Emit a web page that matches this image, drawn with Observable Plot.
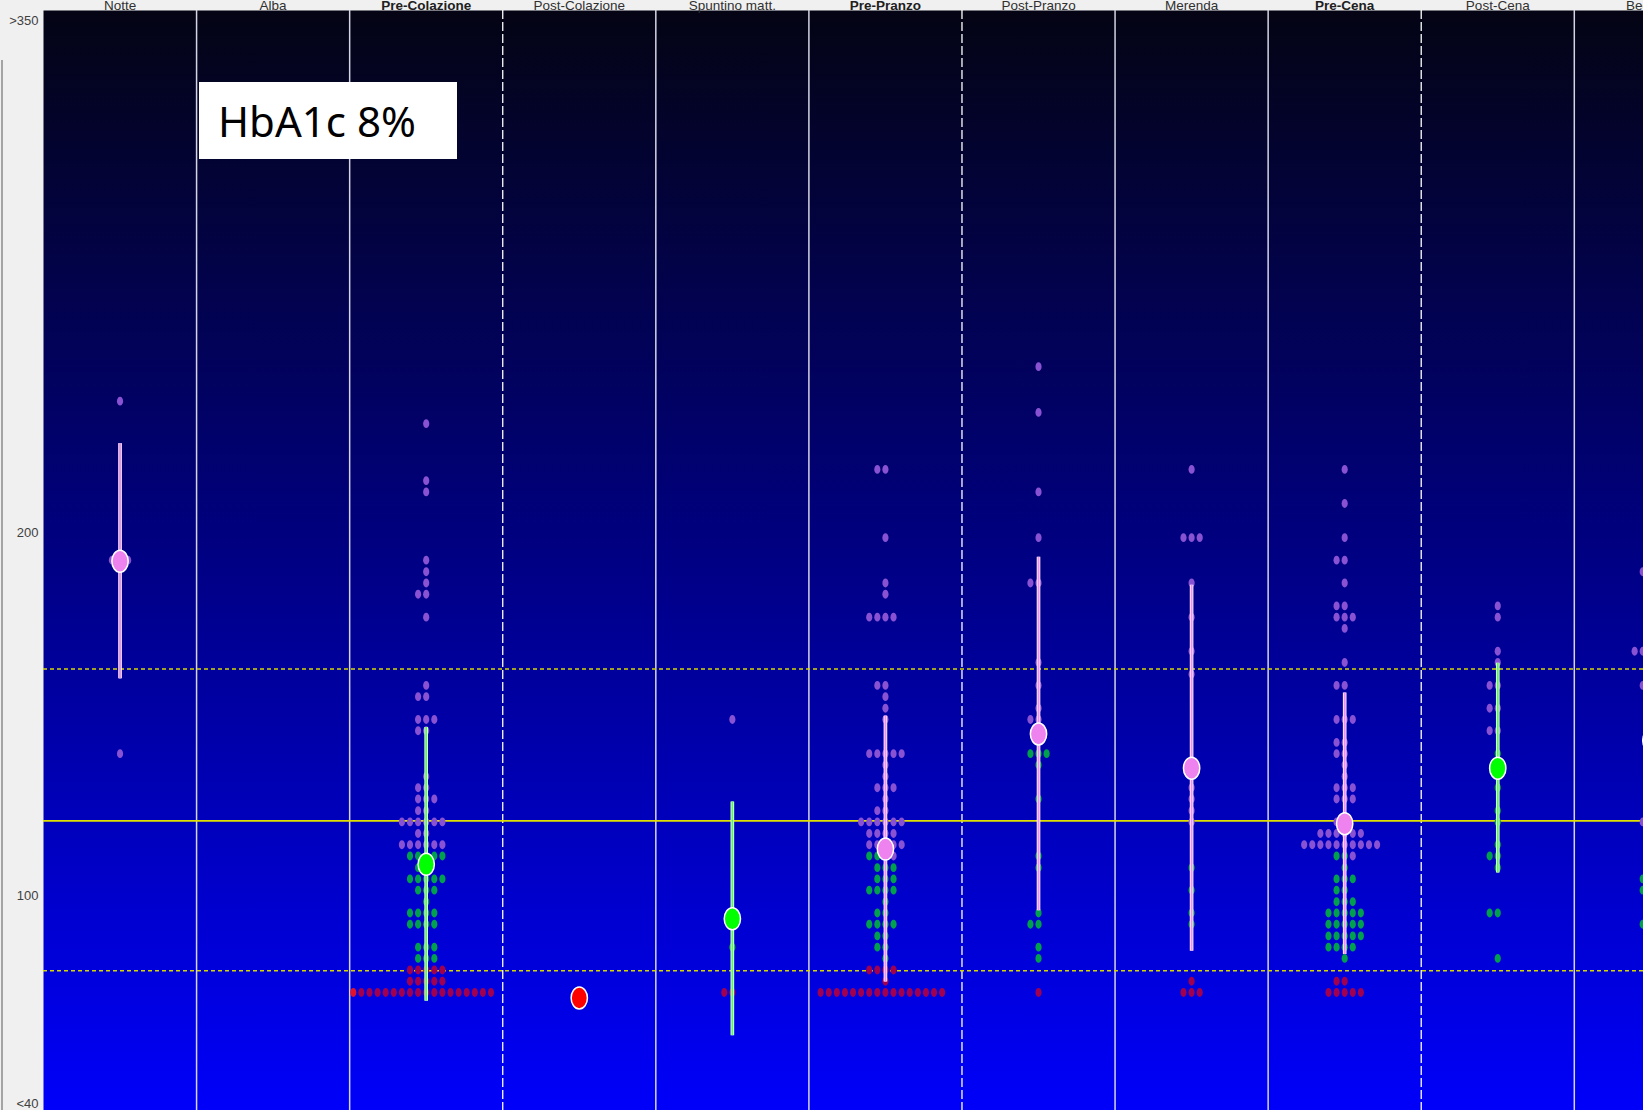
<!DOCTYPE html>
<html>
<head>
<meta charset="utf-8">
<script src="https://cdn.jsdelivr.net/npm/d3@7"></script>
<script src="https://cdn.jsdelivr.net/npm/@observablehq/plot@0.6"></script>
<style>
  html, body { margin: 0; padding: 0; width: 1643px; height: 1110px; overflow: hidden; background: #f0f0f0; }
  #chart { position: absolute; left: 0; top: 0; }
  #edge { position: absolute; left: 1px; top: 60px; width: 2px; height: 1050px; background: #a4a4a4; }
  #hba1c {
    position: absolute; left: 199px; top: 82px; width: 258px; height: 77px;
    background: #ffffff; color: #000; box-sizing: border-box; padding-left: 19px;
    font-family: "Noto Sans", sans-serif; font-size: 42px; line-height: 77px; white-space: nowrap;
  }
</style>
</head>
<body>
<div id="edge"></div>
<div id="chart"></div>
<div id="hba1c">HbA1c 8%</div>
<script>
// Time slots of the standard day (columns, left to right)
const slots = ["Notte", "Alba", "Pre-Colazione", "Post-Colazione", "Spuntino matt.", "Pre-Pranzo",
               "Post-Pranzo", "Merenda", "Pre-Cena", "Post-Cena", "Bedtime"];
const preMealSlots = ["Pre-Colazione", "Pre-Pranzo", "Pre-Cena"];

// Glucose axis (mg/dL)
const yTicks = [100, 200];
const yTopLabel = ">350";
const yBottomLabel = "<40";
const targetBand = [79.5, 162.6];   // dotted limits
const targetLine = [120.8];         // solid reference

// Readings: [slot index, glucose value, number of readings at that value]
const severeLowReadings = [[2, 73.5, 1]];
const lowReadings = [
  [2, 79.7, 5], [2, 76.6, 5], [2, 73.5, 17],
  [3, 72.0, 1],
  [4, 73.5, 2],
  [5, 79.7, 4], [5, 76.6, 1], [5, 73.5, 16],
  [6, 73.5, 1],
  [7, 76.6, 1], [7, 73.5, 3],
  [8, 76.6, 2], [8, 73.5, 5]
];
const inRangeReadings = [
  [2, 111.1, 5], [2, 107.9, 2], [2, 104.8, 5], [2, 101.7, 3], [2, 98.5, 1], [2, 95.4, 4], [2, 92.3, 4], [2, 86.0, 3], [2, 82.9, 3],
  [4, 95.4, 1], [4, 86.0, 1],
  [5, 111.1, 3], [5, 107.9, 3], [5, 104.8, 3], [5, 101.7, 4], [5, 98.5, 1], [5, 95.4, 2], [5, 92.3, 4], [5, 89.1, 2], [5, 86.0, 2], [5, 82.9, 1],
  [6, 139.3, 3], [6, 136.2, 1], [6, 126.8, 1], [6, 111.1, 1], [6, 107.9, 1], [6, 95.4, 1], [6, 92.3, 2], [6, 86.0, 1], [6, 82.9, 1],
  [7, 107.9, 1], [7, 101.7, 1], [7, 95.4, 1], [7, 92.3, 1],
  [8, 111.1, 2], [8, 107.9, 1], [8, 104.8, 3], [8, 101.7, 2], [8, 98.5, 3], [8, 95.4, 5], [8, 92.3, 5], [8, 89.1, 5], [8, 86.0, 4], [8, 82.9, 1],
  [9, 139.3, 1], [9, 129.9, 1], [9, 123.6, 1], [9, 120.5, 1], [9, 114.2, 1], [9, 111.1, 2], [9, 107.9, 1], [9, 95.4, 2], [9, 82.9, 1],
  [10, 104.8, 2], [10, 101.7, 2], [10, 92.3, 2]
];
const highReadings = [
  [0, 236.4, 1], [0, 192.6, 3], [0, 139.3, 1],
  [2, 230.2, 1], [2, 214.5, 1], [2, 211.4, 1], [2, 192.6, 1], [2, 189.4, 1], [2, 186.3, 1], [2, 183.2, 2], [2, 176.9, 1],
  [2, 158.1, 1], [2, 155.0, 2], [2, 148.7, 3], [2, 145.6, 2], [2, 133.0, 1], [2, 129.9, 2], [2, 126.8, 3], [2, 123.6, 2],
  [2, 120.5, 6], [2, 117.3, 2], [2, 114.2, 6],
  [4, 148.7, 1],
  [5, 217.6, 2], [5, 198.8, 1], [5, 186.3, 1], [5, 183.2, 1], [5, 176.9, 4], [5, 158.1, 2], [5, 155.0, 1], [5, 151.8, 1],
  [5, 148.7, 1], [5, 139.3, 5], [5, 136.2, 1], [5, 133.0, 1], [5, 129.9, 3], [5, 126.8, 1], [5, 123.6, 2], [5, 120.5, 6],
  [5, 117.3, 4], [5, 114.2, 5], [5, 111.1, 1],
  [6, 245.9, 1], [6, 233.3, 1], [6, 211.4, 1], [6, 198.8, 1], [6, 186.3, 2], [6, 164.4, 1], [6, 158.1, 1], [6, 151.8, 1], [6, 148.7, 2],
  [7, 217.6, 1], [7, 198.8, 3], [7, 186.3, 1], [7, 176.9, 1], [7, 167.5, 1], [7, 161.2, 1], [7, 129.9, 1], [7, 126.8, 1],
  [7, 123.6, 1], [7, 120.5, 1],
  [8, 217.6, 1], [8, 208.2, 1], [8, 198.8, 1], [8, 192.6, 2], [8, 186.3, 1], [8, 180.0, 2], [8, 176.9, 3], [8, 173.8, 1],
  [8, 164.4, 1], [8, 158.1, 2], [8, 148.7, 3], [8, 142.4, 2], [8, 139.3, 2], [8, 136.2, 1], [8, 133.0, 1], [8, 129.9, 3],
  [8, 126.8, 3], [8, 120.5, 2], [8, 117.3, 6], [8, 114.2, 10], [8, 111.1, 1],
  [9, 180.0, 1], [9, 176.9, 1], [9, 167.5, 1], [9, 164.4, 1], [9, 158.1, 2], [9, 151.8, 2], [9, 145.6, 2],
  [10, 189.4, 2], [10, 167.5, 4], [10, 158.1, 2], [10, 120.5, 2]
];

// Per-slot mean and standard deviation, with the band the mean falls in
const meanValues = [192.3, null, 108.8, 72.0, 93.8, 113.0, 144.7, 135.3, 120.0, 135.3, 142.9];
const sdValues   = [32.4, null, 37.7, 0, 32.2, 36.6, 48.7, 50.4, 36.0, 28.9, 40.0];
const meanBands  = ["high", null, "inRange", "low", "inRange", "high", "high", "high", "high", "inRange", "high"];

// Styling
const dotColors = {severeLow: "#e3122c", low: "#a0004f", inRange: "#00a04c", high: "#8852d2"};
const markerColors = {low: "#ff0000", inRange: "#00ff00", high: "#ee82ee"};
const barColors = {low: "#ff6060", inRange: "#50ff50", high: "#ee90ee"};
const columnWidth = 153.08;   // px per slot
const dotStep = 8.1 / columnWidth;   // horizontal spacing of stacked readings, in slot units

// Vertically elongated ellipse symbol
function ellipse(aspect) {
  return {
    draw(context, size) {
      const ry = Math.sqrt(size / Math.PI), rx = ry * aspect, k = 0.5522847498;
      context.moveTo(rx, 0);
      context.bezierCurveTo(rx, k * ry, k * rx, ry, 0, ry);
      context.bezierCurveTo(-k * rx, ry, -rx, k * ry, -rx, 0);
      context.bezierCurveTo(-rx, -k * ry, -k * rx, -ry, 0, -ry);
      context.bezierCurveTo(k * rx, -ry, rx, -k * ry, rx, 0);
      context.closePath();
    }
  };
}

// Expand readings and lay out readings that share a slot and value in one centred row
const bands = [["severeLow", severeLowReadings], ["low", lowReadings], ["inRange", inRangeReadings], ["high", highReadings]];
const readings = bands.flatMap(([band, rows]) =>
  rows.flatMap(([slot, value, count]) => Array.from({length: count}, () => ({slot, value, band}))));
const dots = [];
for (const group of d3.group(readings, d => `${d.slot}|${d.value}`).values()) {
  const start = -Math.floor(group.length / 2);
  group.forEach((d, k) => dots.push({...d, offset: start + k}));
}

const summary = meanValues
  .map((mean, slot) => ({slot, mean, sd: sdValues[slot], band: meanBands[slot]}))
  .filter(d => d.mean != null);
const bars = summary.filter(d => d.sd > 0);

const boundaries = d3.range(1, slots.length).map(i => ({x: i, dashed: preMealSlots.includes(slots[i - 1])}));
const slotLabels = slots.map((name, i) => ({name, x: i + 0.5, bold: preMealSlots.includes(name)}));

const chart = Plot.plot({
  width: 1643,
  height: 1110,
  marginLeft: 43,
  marginRight: 0,
  marginTop: 10,
  marginBottom: 0,
  style: {
    background: "transparent",
    fontFamily: "'Liberation Sans Narrow', 'Liberation Sans', sans-serif",
    fontSize: "13px",
    overflow: "visible"
  },
  x: {domain: [0, slots.length], range: [43, 43 + slots.length * columnWidth], axis: null},
  y: {domain: [41, 344], range: [1110, 10], axis: null},
  color: {type: "identity"},
  marks: [
    Plot.frame({fill: "url(#plotBackground)", stroke: "none"}),
    Plot.ruleX(boundaries.filter(d => !d.dashed), {x: "x", stroke: "#d4d4e4", strokeWidth: 1.5}),
    Plot.ruleX(boundaries.filter(d => d.dashed), {x: "x", stroke: "#ffffff", strokeWidth: 1.3, strokeDasharray: "9,3"}),
    Plot.ruleY(targetBand, {stroke: "#d6d600", strokeWidth: 1.5, strokeDasharray: "4,3"}),
    Plot.ruleY(targetLine, {stroke: "#e0e000", strokeWidth: 1.8}),
    Plot.dot(dots, {
      x: d => d.slot + 0.5 + d.offset * dotStep,
      y: "value",
      r: 4.4,
      symbol: ellipse(0.7),
      fill: d => dotColors[d.band],
      stroke: "none"
    }),
    Plot.ruleX(bars, {x: d => d.slot + 0.5, y1: d => d.mean - d.sd, y2: d => d.mean + d.sd, stroke: "#ffffff", strokeWidth: 3.6}),
    Plot.ruleX(bars, {x: d => d.slot + 0.5, y1: d => d.mean - d.sd, y2: d => d.mean + d.sd, stroke: d => barColors[d.band], strokeWidth: 2}),
    Plot.dot(summary, {
      x: d => d.slot + 0.5,
      y: "mean",
      r: 11,
      symbol: ellipse(0.74),
      fill: d => markerColors[d.band],
      stroke: "#ffffff",
      strokeWidth: 1.5
    }),
    Plot.axisY(yTicks, {anchor: "left", tickSize: 0, tickPadding: 5, label: null, fill: "#404040", fontSize: 13}),
    Plot.text([yTopLabel], {text: d => d, frameAnchor: "top-left", textAnchor: "end", dx: -5, dy: 5, fill: "#404040", fontSize: 13}),
    Plot.text([yBottomLabel], {text: d => d, frameAnchor: "bottom-left", textAnchor: "end", dx: -5, dy: -3, fill: "#404040", fontSize: 13}),
    Plot.text(slotLabels.filter(d => !d.bold), {x: "x", text: "name", frameAnchor: "top", dy: -10, fill: "#303030", fontSize: 13.5}),
    Plot.text(slotLabels.filter(d => d.bold), {x: "x", text: "name", frameAnchor: "top", dy: -10, fill: "#202020", fontSize: 13.5, fontWeight: "bold"})
  ]
});

// Vertical gradient for the plotting area, dark at the top to bright blue at the bottom
const defs = d3.select(chart).insert("defs", ":first-child");
const gradient = defs.append("linearGradient")
  .attr("id", "plotBackground")
  .attr("x1", 0).attr("y1", 0).attr("x2", 0).attr("y2", 1);
gradient.append("stop").attr("offset", "0%").attr("stop-color", "#040414");
gradient.append("stop").attr("offset", "50%").attr("stop-color", "#000084");
gradient.append("stop").attr("offset", "100%").attr("stop-color", "#0000fa");

document.getElementById("chart").appendChild(chart);
</script>
</body>
</html>
